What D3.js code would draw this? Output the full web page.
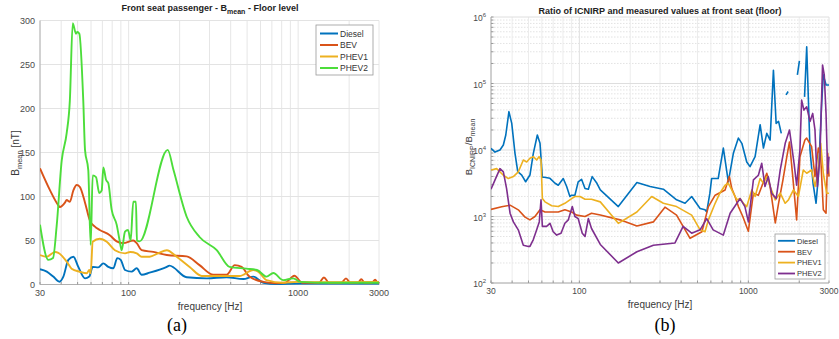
<!DOCTYPE html>
<html>
<head>
<meta charset="utf-8">
<script src="https://cdn.jsdelivr.net/npm/d3@7"></script>
<style>
  body { margin: 0; background: #fff; }
  text { font-family: "Liberation Sans", Arial, sans-serif; }
</style>
</head>
<body>
<svg id="fig" width="839" height="339"></svg>
<script>
// ---- panel (a): B_mean [nT] vs frequency, pairs of [Hz, nT]
const dieselA = [[30,17.3],[32.9,14.6],[35.9,9],[39,3.2],[41.2,9],[44.1,28],[47.2,31.6],[50.5,20],[55.3,7],[58.6,9],
  [61.4,20],[66.2,19.5],[70.9,24],[75.9,20],[81.2,18.4],[85.7,30],[89.8,28],[95.2,16.5],[104,14.6],[111.6,18.4],
  [119.4,11],[133,13.4],[168,20],[174,21.4],[220,8.2],[289,7],[378,8.2],[475,6.2],[544,9],[624,2],[748,0.5],[1000,1],[3000,1]];
const bevA = [[30,132],[34.4,107],[38.5,90],[39.3,88],[42.1,93],[43.1,96],[45,94],[47.2,107],[49.4,113],[51.5,111],
  [55.3,93],[59,73],[63,66],[67.5,62],[77.4,56],[85,49],[93,47],[106.5,50],[111.6,47],[119.4,39],[139.8,37],[168,33.5],
  [220,32],[262,22],[316,11],[378,11],[423,22],[464,20],[516,9],[624,3],[748,1.5],[840,2],[950,10],[1060,2],
  [1330,2],[1420,8],[1520,2],[1800,2],[1916,7],[2030,2],[2250,2],[2358,6],[2470,2],[2720,2],[2847,5.5],[2950,2],[3000,3]];
const phev1A = [[30,33.5],[32.9,31.6],[36.8,37],[38.5,36],[43.1,26],[46.1,18],[51.5,14.5],[56.6,12.7],[58.6,16.5],[59.7,12.7],
  [61.4,48.6],[67.5,52],[74.3,48.6],[83,39],[95.2,35.4],[102,37],[111.6,35.4],[119.4,31.6],[133,31.6],[149,35.4],[168,39],
  [192,31.6],[229,20],[270,9.7],[331,9.7],[451,9.7],[544,16.5],[581,14.5],[651,5],[816,2],[1000,3],[1500,2.5],[3000,3]];
const phev2A = [[30,68],[33.6,28],[35.8,30],[37.6,66],[40.3,141],[43.1,172],[45,209],[46.8,297],[48.9,285],[49.8,287],[51.2,285],
  [54,209],[55.3,153],[57.8,130],[59.7,45],[61.4,124],[64.2,122],[67.1,104],[69.4,107],[70.9,133],[73.6,119],[75.9,115],
  [79.4,85],[85,68],[88.5,50],[91,39],[95.2,60],[99.2,62],[102.8,50],[106.5,94],[110.4,94],[112,50],[116,49],[170,153],
  [184,130],[220,77],[262,54],[331,39],[394,20],[495,18],[572,16.5],[651,9],[714,13],[816,5],[936,7],[1030,3],[1500,2],[3000,2]];

// ---- panel (b): B_ICNIRP / B_mean vs frequency, pairs of [Hz, ratio] (null = gap)
const dieselB = [[30,10600],[31.7,9300],[33.9,10000],[35.5,11900],[36.7,16800],[38.3,37700],[39.8,25100],[41.6,8900],[43.2,4720],
  [45.6,4200],[48.1,3330],[51,4200],[53.4,8900],[56.4,16800],[58.5,12600],[60.4,3890],[62,3890],[67,3750],[71.8,3160],[75,2950],
  [80.3,3720],[84.1,2820],[87.9,2000],[90,2090],[94.1,2090],[98.4,3310],[103,3630],[108,2630],[113,2570],[119,3980],[127,3160],
  [133,2510],[170,1410],[219,3240],[262,2820],[314,2570],[376,1780],[422,1580],[462,2000],[518,1320],[554,1260],[567,1170],
  [592,2240],[606,3720],[663,3720],[711,10700],[761,3310],[815,8900],[873,15100],[915,12600],[978,6610],[1023,5620],[1096,7940],
  [1174,24000],[1228,10700],[1285,17800],[1345,14100],[1407,158000],[1460,25100],[1509,26900],[1566,17800],[1610,null],
  [1671,67600],[1719,75900],[1800,null],[1950,135000],[2005,219000],[2080,null],[2150,63000],[2214,355000],[2316,10000],
  [2414,3160],[2515,1580],[2594,3980],[2715,50000],[2776,135000],[2881,95000],[3000,95000]];
const bevB = [[30,1280],[34.7,1400],[38.9,1480],[43.5,1260],[47.7,980],[51,890],[54.6,1000],[58.5,1260],[62.6,1170],[68.6,1170],
  [75,1170],[82.1,1260],[90,1170],[96.4,1050],[108,1000],[118,1120],[133,1050],[174,890],[219,720],[274,830],[321,1380],[376,1050],
  [452,470],[531,590],[580,1410],[636,2090],[728,2510],[772,3980],[798,2630],[834,2000],[873,1410],[927,1000],[969,740],[1000,600],
  [1071,2240],[1146,2090],[1200,2820],[1285,4470],[1345,2820],[1443,800],[1509,1580],[1602,3550],[1689,7940],[1751,13200],
  [1831,3980],[1930,890],[2019,7940],[2160,14100],[2214,15100],[2367,11200],[2478,3980],[2594,10700],[2679,7940],[2776,1260],
  [2881,1120],[2947,8910],[3000,3980]];
const phev1B = [[30,5010],[32.4,5250],[35.5,4170],[38,3720],[40.7,3980],[43.5,4680],[46.6,7080],[48.8,6610],[51,7500],[53.4,7940],
  [55.9,7080],[57.7,7940],[59.3,7080],[60.4,1860],[62.6,1660],[68.6,1450],[75,1410],[82.1,1580],[90,1860],[94.1,2000],[100.9,2000],
  [108,1820],[118,1820],[133,1660],[170,790],[219,1170],[268,2000],[314,1580],[376,1410],[462,1050],[518,630],[554,590],[580,890],
  [636,1580],[678,2240],[728,2950],[761,3160],[798,2510],[855,1780],[894,1860],[934,1580],[978,1410],[1048,2510],[1096,2000],
  [1174,3720],[1228,3160],[1285,3980],[1345,2820],[1443,1780],[1544,2240],[1652,1580],[1727,1780],[1848,2510],[1977,2000],
  [2114,5010],[2214,4470],[2367,5010],[2478,2820],[2594,5010],[2679,12600],[2776,4470],[2907,2240],[3000,2240]];
const phev2B = [[30,2570],[31.7,3550],[33.9,5250],[35.5,4680],[37.1,2630],[38.9,1120],[40.7,830],[43.5,630],[46.6,370],[49.9,355],
  [51,355],[53.4,450],[55.9,630],[57.9,830],[59.3,1780],[60.4,710],[64,710],[67,790],[70,590],[73.4,525],[77.9,560],[82.1,790],
  [86,890],[90.8,1410],[94.1,1000],[98.4,930],[104,560],[108,500],[113,930],[118,660],[133,380],[170,200],[219,295],[274,370],
  [368,400],[411,710],[462,560],[518,630],[567,930],[619,630],[711,525],[780,1120],[855,1580],[894,1860],[954,1410],[1000,830],
  [1071,3550],[1146,4170],[1200,6310],[1254,2820],[1312,3980],[1373,2240],[1460,1860],[1544,5010],[1652,12600],[1751,20000],
  [1864,6310],[1930,2950],[2019,10000],[2066,56200],[2132,39800],[2214,44700],[2316,26900],[2402,35500],[2478,20000],[2560,2820],
  [2652,7940],[2747,190000],[2812,135000],[2881,35500],[2947,4470],[3000,7940]];

const seriesNames = ['Diesel', 'BEV', 'PHEV1', 'PHEV2'];
const colorsA = ['#0072BD', '#D95319', '#EDB120', '#4CDD3A'];
const colorsB = ['#0072BD', '#D95319', '#EDB120', '#7E2F8E'];
const xTickLabels = [30, 100, 1000, 3000];
const yTicksA = [0, 50, 100, 150, 200, 250, 300];
const yTicksB = [1e2, 1e3, 1e4, 1e5, 1e6];

const svg = d3.select('#fig');

// ---------- panel (a)
const xA = d3.scaleLog().domain([30, 3000]).range([40, 379]);
const yA = d3.scaleLinear().domain([0, 300]).range([284.5, 20.5]);
const gA = svg.append('g');

gA.append('g').selectAll('line').data(xA.ticks()).join('line')
  .attr('x1', d => xA(d)).attr('x2', d => xA(d))
  .attr('y1', yA(0)).attr('y2', yA(300))
  .attr('stroke', '#e6e6e6').attr('stroke-width', 1);
gA.append('g').selectAll('line').data(yTicksA).join('line')
  .attr('x1', 40).attr('x2', 379)
  .attr('y1', d => yA(d)).attr('y2', d => yA(d))
  .attr('stroke', '#e3e3e3').attr('stroke-width', 1);

// axes
gA.append('line').attr('x1', 40).attr('x2', 40).attr('y1', yA(0)).attr('y2', yA(300)).attr('stroke', '#b0b0b0');
gA.append('line').attr('x1', 40).attr('x2', 379).attr('y1', yA(0)).attr('y2', yA(0)).attr('stroke', '#b0b0b0');
gA.append('g').selectAll('line').data(xA.ticks()).join('line')
  .attr('x1', d => xA(d)).attr('x2', d => xA(d))
  .attr('y1', yA(0)).attr('y2', yA(0) - 2.5).attr('stroke', '#999');

gA.append('g').selectAll('text').data(yTicksA).join('text')
  .attr('x', 35).attr('y', d => yA(d) + 3.5)
  .attr('text-anchor', 'end').attr('font-size', 9).attr('fill', '#4a4a4a')
  .text(d => d);
gA.append('g').selectAll('text').data(xTickLabels).join('text')
  .attr('x', d => xA(d)).attr('y', 296)
  .attr('text-anchor', 'middle').attr('font-size', 9).attr('fill', '#4a4a4a')
  .text(d => d);

gA.append('text').attr('x', 210).attr('y', 310).attr('text-anchor', 'middle')
  .attr('font-size', 10).attr('fill', '#3a3a3a').text('frequency [Hz]');

const ylabA = gA.append('text').attr('transform', 'translate(19,153) rotate(-90)')
  .attr('text-anchor', 'middle').attr('font-size', 10).attr('fill', '#3a3a3a');
ylabA.append('tspan').text('B');
ylabA.append('tspan').attr('font-size', 7.5).attr('dy', 3).text('mean');
ylabA.append('tspan').attr('dy', -3).text(' [nT]');

const titA = gA.append('text').attr('x', 210).attr('y', 11).attr('text-anchor', 'middle')
  .attr('font-size', 9).attr('font-weight', 'bold').attr('fill', '#222');
titA.append('tspan').text('Front seat passenger - B');
titA.append('tspan').attr('font-size', 7).attr('dy', 3).text('mean');
titA.append('tspan').attr('dy', -3).text(' - Floor level');

svg.append('clipPath').attr('id', 'clipA').append('rect')
  .attr('x', 40).attr('y', 18).attr('width', 340).attr('height', 268);

const lineA = d3.line().curve(d3.curveMonotoneX)
  .x(d => xA(d[0])).y(d => yA(d[1]));
const plotA = gA.append('g').attr('clip-path', 'url(#clipA)');
[dieselA, bevA, phev1A, phev2A].forEach((s, i) => {
  plotA.append('path').datum(s).attr('d', lineA)
    .attr('fill', 'none').attr('stroke', colorsA[i]).attr('stroke-width', 1.9)
    .attr('stroke-linejoin', 'round');
});

// legend (a)
const legA = gA.append('g').attr('transform', 'translate(316,25)');
legA.append('rect').attr('width', 57).attr('height', 50)
  .attr('fill', '#fff').attr('stroke', '#9a9a9a').attr('stroke-width', 0.8);
seriesNames.forEach((n, i) => {
  const yy = 8.5 + i * 11.5;
  legA.append('line').attr('x1', 4).attr('x2', 22).attr('y1', yy).attr('y2', yy)
    .attr('stroke', colorsA[i]).attr('stroke-width', 2);
  legA.append('text').attr('x', 24).attr('y', yy + 3.2).attr('font-size', 8.5).attr('fill', '#333').text(n);
});

svg.append('text').attr('x', 177).attr('y', 331).attr('text-anchor', 'middle')
  .style('font-family', '"Liberation Serif", "Times New Roman", serif')
  .attr('font-size', 18).attr('fill', '#000').text('(a)');

// ---------- panel (b)
const xB = d3.scaleLog().domain([30, 3000]).range([491, 829]);
const yB = d3.scaleLog().domain([1e2, 1e6]).range([283, 17]);
const gB = svg.append('g');

const minorY = yB.ticks().filter(d => yTicksB.indexOf(d) < 0);
gB.append('g').selectAll('line').data(minorY).join('line')
  .attr('x1', 491).attr('x2', 829)
  .attr('y1', d => yB(d)).attr('y2', d => yB(d))
  .attr('stroke', '#dcdcdc').attr('stroke-width', 0.8).attr('stroke-dasharray', '1.5,1.5');
gB.append('g').selectAll('line').data(xB.ticks()).join('line')
  .attr('x1', d => xB(d)).attr('x2', d => xB(d))
  .attr('y1', 17).attr('y2', 283)
  .attr('stroke', d => xTickLabels.indexOf(d) >= 0 ? '#e0e0e0' : '#ececec').attr('stroke-width', 1);
gB.append('g').selectAll('line').data(yTicksB).join('line')
  .attr('x1', 491).attr('x2', 829)
  .attr('y1', d => yB(d)).attr('y2', d => yB(d))
  .attr('stroke', '#dedede').attr('stroke-width', 1);

gB.append('line').attr('x1', 491).attr('x2', 491).attr('y1', 17).attr('y2', 283).attr('stroke', '#b0b0b0');
gB.append('line').attr('x1', 491).attr('x2', 829).attr('y1', 283).attr('y2', 283).attr('stroke', '#b0b0b0');
gB.append('g').selectAll('line').data(xB.ticks()).join('line')
  .attr('x1', d => xB(d)).attr('x2', d => xB(d))
  .attr('y1', 283).attr('y2', 280.5).attr('stroke', '#999');
gB.append('g').selectAll('line').data(yB.ticks()).join('line')
  .attr('x1', 491).attr('x2', 493.5)
  .attr('y1', d => yB(d)).attr('y2', d => yB(d)).attr('stroke', '#999');

const yLabB = gB.append('g').selectAll('text').data(yTicksB).join('text')
  .attr('x', 486).attr('y', d => yB(d) + 4)
  .attr('text-anchor', 'end').attr('font-size', 8.5).attr('fill', '#4a4a4a');
yLabB.append('tspan').text('10');
yLabB.append('tspan').attr('font-size', 6).attr('dy', -4).text(d => Math.round(Math.log10(d)));

gB.append('g').selectAll('text').data(xTickLabels).join('text')
  .attr('x', d => xB(d)).attr('y', 294)
  .attr('text-anchor', 'middle').attr('font-size', 8.5).attr('fill', '#4a4a4a')
  .text(d => d);

gB.append('text').attr('x', 660).attr('y', 308).attr('text-anchor', 'middle')
  .attr('font-size', 10).attr('fill', '#3a3a3a').text('frequency [Hz]');

const ylabB = gB.append('text').attr('transform', 'translate(472,147) rotate(-90)')
  .attr('text-anchor', 'middle').attr('font-size', 9.5).attr('fill', '#3a3a3a');
ylabB.append('tspan').text('B');
ylabB.append('tspan').attr('font-size', 7).attr('dy', 3).text('ICNIRP');
ylabB.append('tspan').attr('dy', -3).text('/B');
ylabB.append('tspan').attr('font-size', 7).attr('dy', 3).text('mean');

gB.append('text').attr('x', 660).attr('y', 14).attr('text-anchor', 'middle')
  .attr('font-size', 9).attr('font-weight', 'bold').attr('fill', '#222')
  .text('Ratio of ICNIRP and measured values at front seat (floor)');

svg.append('clipPath').attr('id', 'clipB').append('rect')
  .attr('x', 491).attr('y', 17).attr('width', 339).attr('height', 267);

const lineB = d3.line().defined(d => d[1] != null)
  .x(d => xB(d[0])).y(d => yB(d[1]));
const plotB = gB.append('g').attr('clip-path', 'url(#clipB)');
[dieselB, bevB, phev1B, phev2B].forEach((s, i) => {
  plotB.append('path').datum(s).attr('d', lineB)
    .attr('fill', 'none').attr('stroke', colorsB[i]).attr('stroke-width', 1.6)
    .attr('stroke-linejoin', 'round');
});

// legend (b)
const legB = gB.append('g').attr('transform', 'translate(775,234)');
legB.append('rect').attr('width', 50).attr('height', 45)
  .attr('fill', '#fff').attr('stroke', '#9a9a9a').attr('stroke-width', 0.8);
seriesNames.forEach((n, i) => {
  const yy = 6.8 + i * 10.9;
  legB.append('line').attr('x1', 3).attr('x2', 20).attr('y1', yy).attr('y2', yy)
    .attr('stroke', colorsB[i]).attr('stroke-width', 1.8);
  legB.append('text').attr('x', 22).attr('y', yy + 2.8).attr('font-size', 7.5).attr('fill', '#333').text(n);
});

svg.append('text').attr('x', 665).attr('y', 331).attr('text-anchor', 'middle')
  .style('font-family', '"Liberation Serif", "Times New Roman", serif')
  .attr('font-size', 18).attr('fill', '#000').text('(b)');
</script>
</body>
</html>
